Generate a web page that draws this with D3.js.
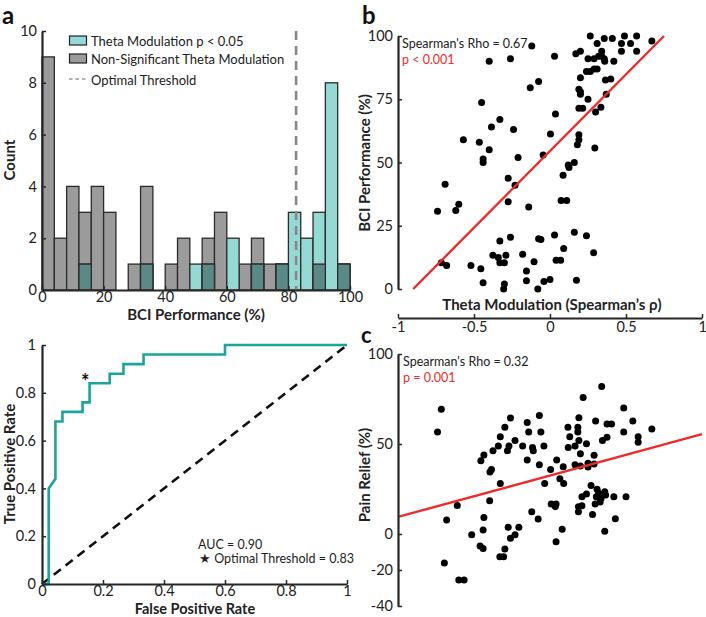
<!DOCTYPE html>
<html><head><meta charset="utf-8">
<script src="https://cdn.jsdelivr.net/npm/d3@7"></script>
<style>
body{margin:0;background:#fff;}
svg text{font-family:Lato,"Noto Sans",sans-serif;fill:#222;}
</style></head>
<body>
<svg id="chart" width="706" height="617"></svg>
<script>
// ---------- DATA ----------
const binEdges = d3.range(0, 101, 4);
const nonSigCounts = [9,2,4,3,4,3,0,1,4,0,1,2,0,2,3,0,1,2,1,1,0,0,1,0,1];
const sigCounts    = [0,0,0,1,0,0,0,0,1,0,0,0,1,1,0,2,0,1,0,1,3,2,3,8,1];
const optimalThreshold = 82.5;
const histXTicks = [0,20,40,60,80,100];
const histYTicks = [0,2,4,6,8,10];

const rocFPR = [0,0.022,0.022,0.044,0.044,0.067,0.067,0.133,0.133,0.156,0.156,0.222,0.222,0.267,0.267,0.333,0.333,0.6,0.6,1];
const rocTPR = [0,0,0.40,0.44,0.68,0.68,0.72,0.72,0.76,0.76,0.84,0.84,0.88,0.88,0.92,0.92,0.96,0.96,1,1];
const rocStar = [0.142, 0.855];
const rocTicks = [0,0.2,0.4,0.6,0.8,1];

const bPoints = [[0.265,100],[0.49,100],[0.57,100],[0.357,99],[0.41,99],[0.67,98],[-0.12,96],[0.31,97],[0.47,97],[0.53,97],
[0.34,94],[0.57,94],[0.47,94],[0.17,93],[0.2,94],[0.03,92],[0.32,92],[0.34,92],[0.357,91],[0.25,91],
[0.29,91],[-0.26,91],[-0.4,90],[0.36,90],[0.42,90],[0.24,86],[0.265,86],[0.29,87],[0.31,87],[0.2,83.5],
[0.365,82.6],[0.4,83],[-0.075,82],[-0.13,79.5],[0.19,79],[0.2,78],[0.2,77],[0.37,77],[0.25,75],[-0.45,73.7],
[0.19,71.4],[0.215,71.4],[0.335,71.8],[0.3,70],[0.036,69.2],[-0.33,67],[-0.385,64],[-0.24,63],[0.19,61],[0.003,61.3],
[-0.57,59],[0.19,59],[-0.465,58],[0.18,57],[0.295,55.7],[-0.4,55],[-0.44,51.4],[-0.44,50],[-0.21,52],[-0.045,53],
[0.16,50],[0.12,49],[0.125,48],[0.086,45],[-0.69,41.4],[-0.275,43.8],[-0.23,41],[0.073,35],[0.11,35],[-0.275,34.5],
[-0.6,33.5],[-0.62,31],[-0.74,30.7],[-0.14,32.4],[0.16,22.4],[0.24,21],[0.03,21.3],[-0.33,19],[-0.26,20.5],[-0.075,19.9],
[-0.06,19.6],[0.09,16],[-0.18,13.7],[0.287,14.3],[-0.376,13.3],[-0.34,12.5],[-0.29,13.3],[-0.33,10.4],[-0.3,10.4],[-0.105,10.8],
[0.04,11.4],[0.07,11.4],[-0.715,10.4],[-0.68,9.3],[-0.52,9.3],[-0.455,8],[-0.155,7.1],[-0.155,3.3],[-0.44,2.5],[-0.3,2],
[-0.305,0],[-0.04,3],[0,3.8],[0.174,3.5],[-0.08,0]];
const bFitX = [-0.9, 0.75];
const bFitY = [0, 100];
const bTicksY = [0,25,50,75,100];

const cPoints = [[0.34,81.9],[-0.715,69.3],[0.485,70],[0.218,75.9],[-0.74,56.7],[-0.07,65.9],[-0.26,64.4],[-0.15,61.9],[0.30,62.8],[0.545,62.8],
[0.19,64.6],[0.375,61.1],[0.405,61.1],[0.118,59.3],[0.183,59.3],[-0.297,59.3],[0.183,56.7],[-0.14,56.7],[-0.06,56.7],[0.485,56.7],
[0.67,58.3],[-0.327,54],[0.13,54],[0.58,54],[0.58,51],[-0.23,52],[0.375,53.7],[0.345,51.9],[0.19,52],[-0.27,48.9],
[-0.34,48.9],[-0.28,46.3],[-0.18,48.9],[-0.115,48.1],[-0.11,46.3],[-0.04,48.9],[0.12,48],[0.165,48.9],[0.24,50.2],[-0.375,46.3],
[0.2,44.6],[-0.435,43.9],[0.29,43.7],[-0.455,40.7],[-0.15,41.1],[0.044,41.1],[-0.07,38.5],[0.165,38.5],[0.2,37.8],[0.25,39.3],
[0.29,38.9],[0.087,37.4],[-0.385,35.9],[-0.395,34.4],[0.004,35.9],[0.25,37.2],[0.065,30.7],[0.09,28.1],[-0.327,28.1],[-0.035,28.1],
[0.27,26.9],[0.31,24.8],[0.36,23.5],[0.366,21.7],[0.32,22.6],[0.24,22.2],[0.21,20.7],[0.42,20.7],[0.5,20.7],[0.336,19.8],
[0.305,20.7],[0.33,17.8],[0.297,16.7],[0.187,15.2],[0.21,15.7],[0.187,12.4],[0.28,10.9],[-0.61,15.9],[-0.397,18.5],[0.008,16.7],
[0.04,16.7],[0.035,15.2],[-0.12,12.4],[0.43,8.5],[-0.68,7.8],[-0.435,9.1],[-0.078,8.3],[0.08,2.6],[-0.44,2.2],[-0.275,3.7],
[-0.205,3.7],[-0.515,-0.4],[-0.23,-0.4],[0.36,1.5],[-0.26,-2.4],[0.04,-4.3],[-0.46,-6.7],[-0.44,-8.1],[-0.297,-8.3],[-0.33,-12.6],
[-0.305,-12.6],[-0.695,-16.1],[-0.6,-25.6],[-0.565,-25.6]];
const cFitX = [-1, 1];
const cFitY = [9.5, 55.5];
const cTicksY = [-40,-20,0,50,100];
const thetaTicks = [-1,-0.5,0,0.5,1];

// ---------- STYLE ----------
const axisColor = "#262626";
const grayFill = "#9b9b9b", cyanFill = "#94d9d4", overlapFill = "#5b8985";
const rocColor = "#1aa59b", red = "#ee2a2a";

const svg = d3.select("#chart");

function styleAxis(g){
  g.select(".domain").attr("stroke", axisColor).attr("stroke-width", 2.2);
  g.selectAll(".tick line").attr("stroke", axisColor).attr("stroke-width", 1.5);
  g.selectAll(".tick text").attr("fill", "#222").style("font-size","14.5px").style("font-family","Lato, sans-serif");
}
function fmt(d){ return String(d); }

// ---------- PANEL A : histogram ----------
const xA = d3.scaleLinear().domain([0,100]).range([42,350]);
const yA = d3.scaleLinear().domain([0,10]).range([290,31]);
const gA = svg.append("g");
const bins = nonSigCounts.map((n,i)=>({x0:binEdges[i], x1:binEdges[i+1], n, s:sigCounts[i]}));
function barLayer(val, fill){
  gA.append("g").selectAll("rect").data(bins.filter(b=>val(b)>0)).join("rect")
    .attr("x", d=>xA(d.x0)).attr("width", d=>xA(d.x1)-xA(d.x0))
    .attr("y", d=>yA(val(d))).attr("height", d=>yA(0)-yA(val(d)))
    .attr("fill", fill).attr("stroke", "#2b2b2b").attr("stroke-width", 1.3);
}
barLayer(d=>d.n, grayFill);
barLayer(d=>d.s, cyanFill);
barLayer(d=>Math.min(d.n,d.s), overlapFill);
gA.append("line").attr("x1", xA(optimalThreshold)).attr("x2", xA(optimalThreshold))
  .attr("y1", yA(10)).attr("y2", yA(0)).attr("stroke", "#888").attr("stroke-width", 2.6).attr("stroke-dasharray","9,6");
gA.append("g").attr("transform","translate(0,290)")
  .call(d3.axisBottom(xA).tickValues(histXTicks).tickSize(-4).tickSizeOuter(0).tickPadding(2).tickFormat(fmt)).call(styleAxis);
gA.append("g").attr("transform","translate(42,0)")
  .call(d3.axisLeft(yA).tickValues(histYTicks).tickSize(-4).tickSizeOuter(0).tickPadding(5).tickFormat(fmt)).call(styleAxis);
// legend
const leg = gA.append("g");
leg.append("rect").attr("x",69.5).attr("y",36).attr("width",17).attr("height",9).attr("fill",cyanFill).attr("stroke","#222").attr("stroke-width",1.2);
leg.append("rect").attr("x",69.5).attr("y",54).attr("width",17).attr("height",9).attr("fill",grayFill).attr("stroke","#222").attr("stroke-width",1.2);
leg.append("line").attr("x1",69).attr("x2",87).attr("y1",79).attr("y2",79).attr("stroke","#999").attr("stroke-width",1.5).attr("stroke-dasharray","3.5,3");
const legText = ["Theta Modulation p < 0.05","Non-Significant Theta Modulation","Optimal Threshold"];
leg.selectAll("text").data(legText).join("text").attr("x",91).attr("y",(d,i)=>45.5+i*18.5+(i==2?2:0))
  .style("font-size","13px").text(d=>d);
gA.append("text").attr("transform","translate(15,160) rotate(-90)").attr("text-anchor","middle")
  .style("font-size","15px").style("font-weight","bold").text("Count");
gA.append("text").attr("x",196).attr("y",320).attr("text-anchor","middle")
  .style("font-size","15px").style("font-weight","bold").text("BCI Performance (%)");
svg.append("text").attr("x",2).attr("y",24).style("font-size","24px").style("font-weight","bold").style("fill","#111").text("a");

// ---------- PANEL ROC ----------
const xR = d3.scaleLinear().domain([0,1]).range([42,347]);
const yR = d3.scaleLinear().domain([0,1]).range([584,345]);
const gR = svg.append("g");
gR.append("line").attr("x1",xR(0)).attr("y1",yR(0)).attr("x2",xR(1)).attr("y2",yR(1))
  .attr("stroke","#111").attr("stroke-width",2.6).attr("stroke-dasharray","9,6");
gR.append("path").datum(rocFPR.map((f,i)=>[f,rocTPR[i]]))
  .attr("d", d3.line().x(d=>xR(d[0])).y(d=>yR(d[1])))
  .attr("fill","none").attr("stroke",rocColor).attr("stroke-width",2.6);
gR.append("g").attr("transform","translate(0,584)")
  .call(d3.axisBottom(xR).tickValues(rocTicks).tickSize(-4).tickSizeOuter(0).tickPadding(2).tickFormat(fmt)).call(styleAxis);
gR.append("g").attr("transform","translate(42,0)")
  .call(d3.axisLeft(yR).tickValues(rocTicks).tickSize(-4).tickSizeOuter(0).tickPadding(6).tickFormat(fmt)).call(styleAxis);
gR.append("text").attr("x",xR(rocStar[0])).attr("y",yR(rocStar[1])+9).attr("text-anchor","middle")
  .style("font-size","20px").style("font-weight","bold").style("fill","#111").text("*");
gR.append("text").attr("x",198).attr("y",549).style("font-size","12.5px").text("AUC = 0.90");
gR.append("text").attr("x",199).attr("y",563).style("font-size","12.5px").text("\u2605 Optimal Threshold = 0.83");
gR.append("text").attr("transform","translate(15,464) rotate(-90)").attr("text-anchor","middle")
  .style("font-size","15px").style("font-weight","bold").text("True Positive Rate");
gR.append("text").attr("x",195).attr("y",614).attr("text-anchor","middle")
  .style("font-size","14.5px").style("font-weight","bold").text("False Positive Rate");

// ---------- PANEL B ----------
const xB = d3.scaleLinear().domain([-1,1]).range([398,702]);
const yB = d3.scaleLinear().domain([0,100]).range([289,36]);
const gB = svg.append("g");
gB.append("g").selectAll("circle").data(bPoints).join("circle")
  .attr("cx",d=>xB(d[0])).attr("cy",d=>yB(d[1])).attr("r",3.5).attr("fill","#000");
gB.append("path").datum(bFitX.map((x,i)=>[x,bFitY[i]]))
  .attr("d", d3.line().x(d=>xB(d[0])).y(d=>yB(d[1]))).attr("stroke",red).attr("stroke-width",2.4).attr("fill","none");
gB.append("g").attr("transform","translate(398,0)")
  .call(d3.axisLeft(yB).tickValues(bTicksY).tickSize(-4).tickSizeOuter(0).tickPadding(5).tickFormat(fmt)).call(styleAxis);
gB.append("text").attr("x",402).attr("y",48).style("font-size","12.5px").text("Spearman's Rho = 0.67");
gB.append("text").attr("x",402).attr("y",64).style("font-size","12.5px").style("fill",red).text("p < 0.001");
gB.append("text").attr("transform","translate(370,163) rotate(-90)").attr("text-anchor","middle")
  .style("font-size","15px").style("font-weight","bold").text("BCI Performance (%)");
svg.append("text").attr("x",362).attr("y",24).style("font-size","24px").style("font-weight","bold").style("fill","#111").text("b");

// shared theta axis
const thetaAxis = svg.append("g").attr("transform","translate(0,318)")
  .call(d3.axisBottom(xB).tickValues(thetaTicks).tickSize(-4).tickSizeOuter(0).tickPadding(4).tickFormat(fmt)).call(styleAxis);
thetaAxis.selectAll(".tick text").filter(d=>d===1).attr("text-anchor","end").attr("dx","0.3em");
svg.append("text").attr("x",552).attr("y",310).attr("text-anchor","middle")
  .style("font-size","15px").style("font-weight","bold").text("Theta Modulation (Spearman\u2019s \u03c1)");

// ---------- PANEL C ----------
const yC = d3.scaleLinear().domain([-40,100]).range([606,354]);
const gC = svg.append("g");
gC.append("g").selectAll("circle").data(cPoints).join("circle")
  .attr("cx",d=>xB(d[0])).attr("cy",d=>yC(d[1])).attr("r",3.5).attr("fill","#000");
gC.append("path").datum(cFitX.map((x,i)=>[x,cFitY[i]]))
  .attr("d", d3.line().x(d=>xB(d[0])).y(d=>yC(d[1]))).attr("stroke",red).attr("stroke-width",2.4).attr("fill","none");
gC.append("g").attr("transform","translate(398,0)")
  .call(d3.axisLeft(yC).tickValues(cTicksY).tickSize(-4).tickSizeOuter(0).tickPadding(5).tickFormat(fmt)).call(styleAxis);
gC.append("text").attr("x",403).attr("y",366).style("font-size","12.5px").text("Spearman's Rho = 0.32");
gC.append("text").attr("x",403).attr("y",382).style("font-size","12.5px").style("fill",red).text("p = 0.001");
gC.append("text").attr("transform","translate(370,475) rotate(-90)").attr("text-anchor","middle")
  .style("font-size","15px").style("font-weight","bold").text("Pain Relief (%)");
svg.append("text").attr("x",361).attr("y",343).style("font-size","22px").style("font-weight","bold").style("fill","#111").text("c");
</script>
</body></html>
